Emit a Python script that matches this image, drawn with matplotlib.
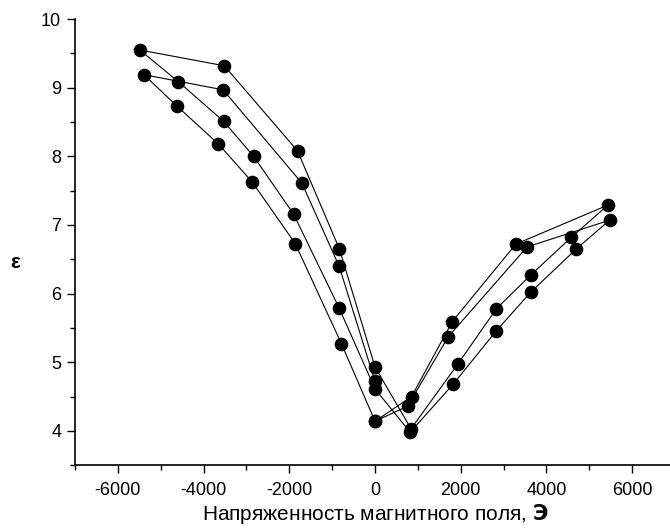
import numpy as np
import matplotlib as mpl
mpl.use('Agg')
import matplotlib.pyplot as plt
from matplotlib.ticker import MultipleLocator

# measurement order: start at H=0, two full cycles of the field
field = [0, -838, -1707, -3546, -5394, -4617, -3655, -2871, -1863, -784,
         0, 760, 1707, 3547, 5472, 4695, 3632, 2833, 1823, 820,
         0, -838, -1902, -2833, -3532, -4594, -5488, -3516, -1809, -831,
         0, 840, 1940, 2833, 3632, 4580, 5433, 3283, 1800, 854,
         0]
eps = [4.72, 6.40, 7.61, 8.97, 9.19, 8.73, 8.18, 7.63, 6.73, 5.27,
       4.14, 4.36, 5.37, 6.68, 7.07, 6.65, 6.02, 5.46, 4.68, 3.98,
       4.61, 5.79, 7.16, 8.00, 8.51, 9.09, 9.55, 9.32, 8.08, 6.65,
       4.93, 4.03, 4.98, 5.78, 6.27, 6.82, 7.29, 6.72, 5.59, 4.50,
       4.14]

plt.rcParams['font.family'] = ['Liberation Sans', 'DejaVu Sans']
plt.rcParams['axes.unicode_minus'] = False

fig = plt.figure(figsize=(6.7, 5.31), dpi=100)
ax = fig.add_axes([0.112, 0.124, 0.8955, 0.840])

ax.plot(field, eps, color='black', lw=0.8, marker='o', ms=8.8,
        markerfacecolor='black', markeredgecolor='black')

ax.set_xlim(-7000, 7000)
ax.set_ylim(3.5, 10)
ax.xaxis.set_major_locator(MultipleLocator(2000))
ax.xaxis.set_minor_locator(MultipleLocator(1000))
ax.yaxis.set_major_locator(MultipleLocator(1))
ax.yaxis.set_minor_locator(MultipleLocator(0.5))

for s in ['top', 'right']:
    ax.spines[s].set_visible(False)
for s in ['left', 'bottom']:
    ax.spines[s].set_linewidth(1.2)

ax.tick_params(which='major', direction='out', length=6, width=1.0, labelsize=13)
ax.tick_params(which='minor', direction='out', length=3.5, width=1.0)
ax.tick_params(axis='y', pad=4)
ax.tick_params(axis='x', pad=6)

ax.set_xlabel('Напряженность магнитного поля, $\\mathbf{Э}$', fontsize=15)
ax.xaxis.set_label_coords(0.5, -0.082)
fig.text(15 / 670, 1 - 262 / 531, 'ε', fontsize=15,
         fontweight='bold', ha='center', va='center')

fig.savefig('out.png', dpi=100)
